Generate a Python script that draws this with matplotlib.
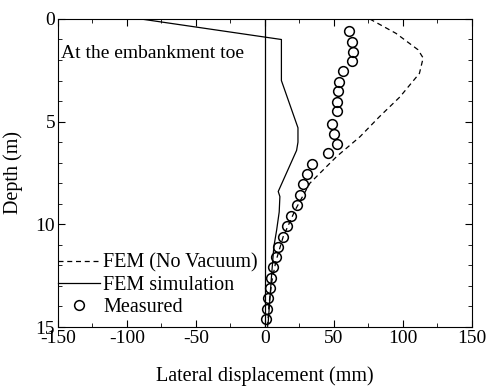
import numpy as np
from matplotlib import pyplot as plt
from matplotlib.ticker import MultipleLocator

plt.rcParams['font.family'] = ['Liberation Serif', 'DejaVu Serif']

# FEM simulation (solid)
sim_x = [-90, 12, 12, 24, 24, 23, 9.7, 10.9, 10.4, 8.5, 6.5, 4.8, 2.4]
sim_d = [0, 1.0, 3.0, 5.3, 6.0, 6.4, 8.4, 8.65, 9.4, 10.3, 11.1, 12.55, 14.8]

# FEM (No Vacuum) (dashed)
nv_x = [76, 95, 111, 114.7, 112, 97.8, 83, 69, 52, 32.6, 22, 13.3, 8, 5, 3, 2]
nv_d = [0, 0.7, 1.5, 1.9, 2.65, 3.8, 4.76, 5.73, 6.7, 8.0, 9.3, 10.6, 11.8, 12.8, 13.9, 15]

# Measured
meas_d = [0.6, 1.1, 1.6, 2.05, 2.55, 3.05, 3.5, 4.05, 4.5, 5.1, 5.6, 6.07, 6.55,
          7.05, 7.55, 8.05, 8.55, 9.05, 9.6, 10.1, 10.6, 11.1, 11.6, 12.1,
          12.6, 13.1, 13.6, 14.1, 14.6]
meas_x = [61, 63.5, 64, 62.8, 56.7, 53.8, 53.1, 52, 52, 48.3, 50.2, 52.4, 45.4,
          34.5, 30.7, 27.8, 25.4, 23, 19.3, 16.4, 13.3, 9.7, 8, 6, 4.8,
          3.6, 2.4, 1.2, 0.5]

fig = plt.figure(figsize=(4.9, 3.87), dpi=100)
ax = fig.add_axes([0.118, 0.155, 0.845, 0.796])

ax.axvline(0, color='black', lw=0.9)
ax.plot(nv_x, nv_d, '--', color='black', lw=0.9, dashes=(4, 3), label='FEM (No Vacuum)')
ax.plot(sim_x, sim_d, '-', color='black', lw=0.9, label='FEM simulation')
ax.plot(meas_x, meas_d, 'o', mfc='none', mec='black', ms=7, mew=1.1, label='Measured')

ax.set_xlim(-150, 150)
ax.set_ylim(15, 0)
ax.xaxis.set_major_locator(MultipleLocator(50))
ax.xaxis.set_minor_locator(MultipleLocator(25))
ax.yaxis.set_major_locator(MultipleLocator(5))
ax.yaxis.set_minor_locator(MultipleLocator(1))
ax.tick_params(which='both', direction='in', top=True, right=True, labelsize=14, pad=2)
ax.tick_params(which='major', length=5)
ax.tick_params(which='minor', length=3)
ax.xaxis.set_major_formatter(plt.FuncFormatter(lambda v, p: '%d' % v))

ax.text(-148, 1.7, 'At the embankment toe', fontsize=14, va='center', ha='left')

ax.set_xlabel('Lateral displacement (mm)', fontsize=14.5, labelpad=14)
ax.set_ylabel('Depth (m)', fontsize=14.5, labelpad=9)

ax.legend(loc='lower left', bbox_to_anchor=(0.0, 0.033), frameon=False, fontsize=14.5,
          handlelength=2.1, handletextpad=0.15, borderaxespad=0, labelspacing=0.15,
          borderpad=0)

fig.savefig('out.png', dpi=100)
